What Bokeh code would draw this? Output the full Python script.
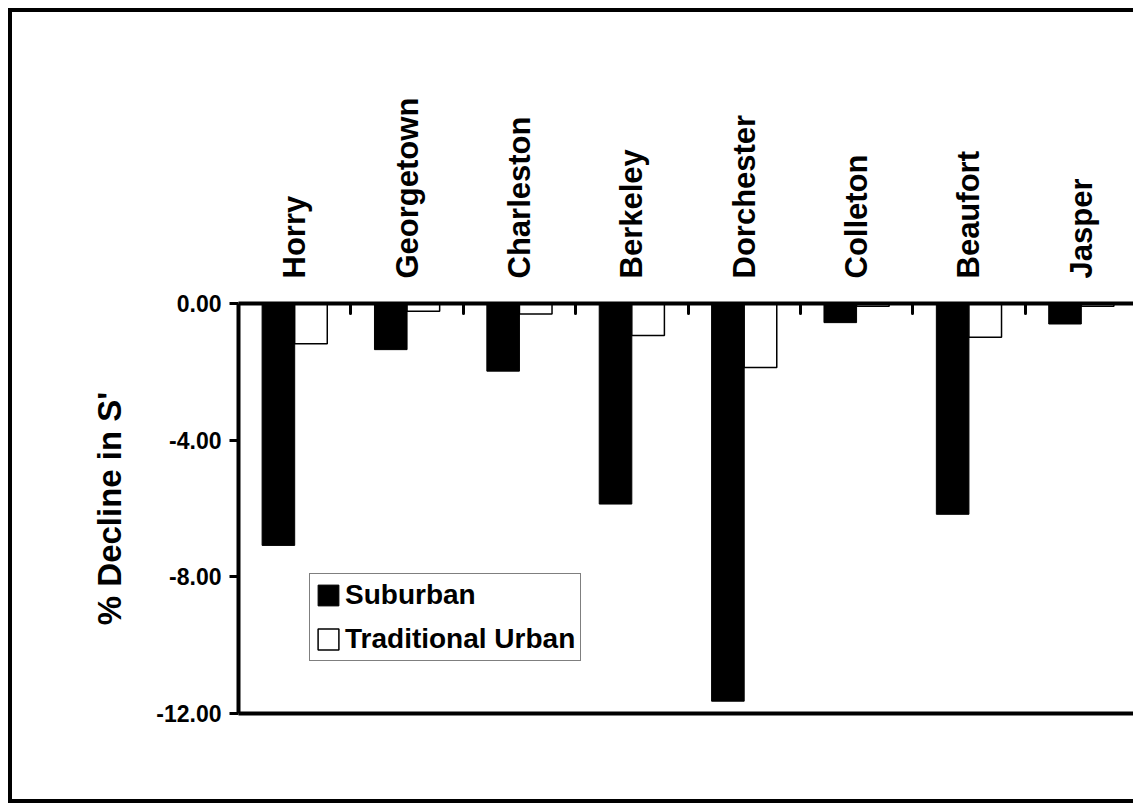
import numpy as np
from bokeh.plotting import figure
from bokeh.models import Range1d, LinearAxis, FixedTicker, NumeralTickFormatter, Legend, LegendItem
from bokeh.embed import file_html
from bokeh.resources import INLINE

counties = ["Horry", "Georgetown", "Charleston", "Berkeley",
            "Dorchester", "Colleton", "Beaufort", "Jasper"]
suburban = [-7.08, -1.35, -1.98, -5.87, -11.64, -0.56, -6.17, -0.60]
traditional_urban = [-1.18, -0.23, -0.31, -0.94, -1.87, -0.08, -0.99, -0.08]
y_ticks = [0, -4, -8, -12]

FONT = "Liberation Sans"
idx = np.arange(len(counties))
centers = idx + 0.5

p = figure(width=1125, height=795, output_backend="svg", toolbar_location=None,
           x_range=Range1d(0, len(counties)), y_range=Range1d(-12, 0),
           x_axis_location=None, y_axis_location=None,
           min_border_left=226, min_border_right=0, min_border_top=291, min_border_bottom=94)
p.grid.visible = False
p.outline_line_color = None
p.background_fill_color = "white"
p.border_fill_color = "white"
p.styles = {"border-left": "4px solid black", "border-top": "4px solid black",
            "border-bottom": "4px solid black", "overflow": "hidden",
            "margin-left": "8px", "margin-top": "8px"}

# left value axis
yax = LinearAxis(ticker=FixedTicker(ticks=y_ticks, minor_ticks=[]),
                 formatter=NumeralTickFormatter(format="0.00"),
                 axis_label="% Decline in S'")
yax.axis_line_width = 4
yax.major_tick_out = 9
yax.major_tick_in = 0
yax.major_tick_line_width = 3
yax.minor_tick_out = 0
yax.minor_tick_in = 0
yax.major_label_text_font = FONT
yax.major_label_text_font_style = "bold"
yax.major_label_text_font_size = "23px"
yax.major_label_text_color = "black"
yax.major_label_standoff = 8
yax.axis_label_text_font = FONT
yax.axis_label_text_font_style = "bold"
yax.axis_label_text_font_size = "33px"
yax.axis_label_text_color = "black"
yax.axis_label_standoff = 25
p.add_layout(yax, "left")

# top category axis (at zero)
tax = LinearAxis(ticker=FixedTicker(ticks=[float(c) for c in centers],
                                    minor_ticks=[float(i) for i in idx[1:]]),
                 major_label_overrides={float(c): n for c, n in zip(centers, counties)})
tax.axis_line_width = 4
tax.major_tick_line_color = None
tax.major_tick_in = 0
tax.major_tick_out = 0
tax.minor_tick_in = 10
tax.minor_tick_out = 0
tax.minor_tick_line_width = 3
tax.minor_tick_line_cap = "round"
tax.major_label_orientation = "vertical"
tax.major_label_standoff = 25
tax.major_label_text_font = FONT
tax.major_label_text_font_style = "bold"
tax.major_label_text_font_size = "31px"
tax.major_label_text_color = "black"
p.add_layout(tax, "above")

# bottom line
bax = LinearAxis(ticker=FixedTicker(ticks=[], minor_ticks=[]))
bax.axis_line_width = 4
bax.major_tick_out = 0
bax.major_tick_in = 0
bax.minor_tick_out = 0
bax.minor_tick_in = 0
bax.major_label_text_font_size = "0px"
p.add_layout(bax, "below")

r1 = p.vbar(x=centers - 0.145, top=suburban, bottom=0, width=0.29,
            fill_color="black", line_color="black", line_width=1)
r2 = p.vbar(x=centers + 0.145, top=traditional_urban, bottom=0, width=0.29,
            fill_color="white", line_color="black", line_width=1.5)

legend = Legend(items=[LegendItem(label="Suburban", renderers=[r1]),
                       LegendItem(label="Traditional Urban", renderers=[r2])],
                location=(71, 52))
legend.border_line_color = "black"
legend.border_line_width = 1
legend.padding = 5
legend.spacing = 12
legend.margin = 0
legend.glyph_width = 26
legend.glyph_height = 26
legend.label_standoff = 4
legend.label_text_font = FONT
legend.label_text_font_style = "bold"
legend.label_text_font_size = "28px"
legend.label_text_color = "black"
p.add_layout(legend)

open("out.html", "w").write(file_html(p, INLINE))
